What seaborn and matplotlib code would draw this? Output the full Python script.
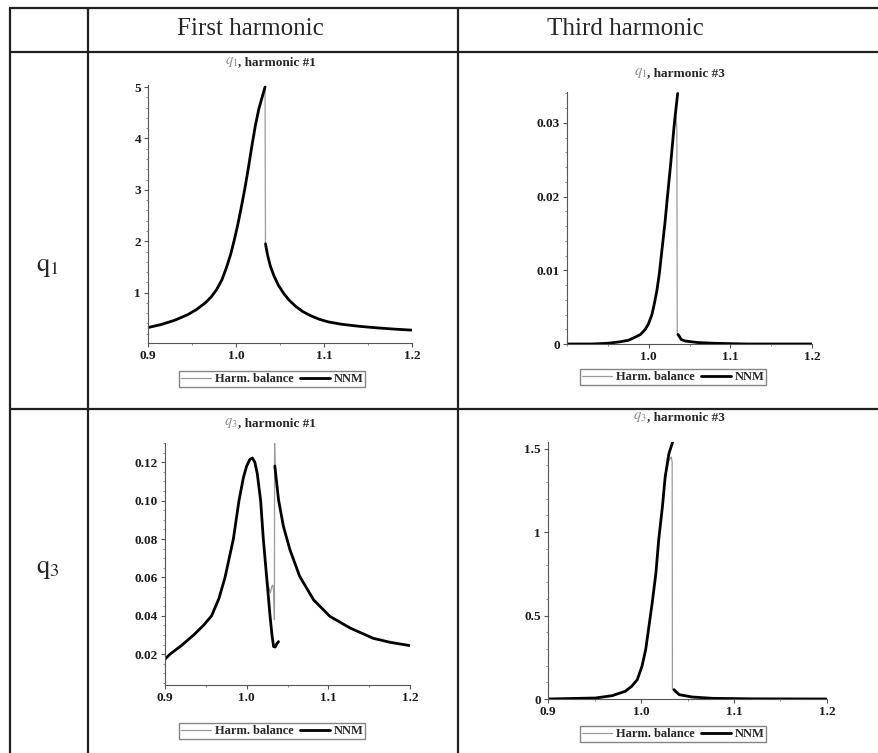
import numpy as np
import pandas as pd
import matplotlib
matplotlib.use("Agg")
import matplotlib.pyplot as plt
from matplotlib.lines import Line2D
from matplotlib.ticker import AutoMinorLocator
import seaborn as sns

# --- DATA ---
# NaN marks a break in a curve

# q1, harmonic #1
q1h1_hb_freq = [0.900, 0.915, 0.930, 0.945, 0.955, 0.965, 0.972, 0.978, 0.984, 0.989, 0.994,
                0.998, 1.002, 1.006, 1.010, 1.014, 1.018, 1.022, 1.026, 1.030, 1.033,
                1.0335, 1.036, 1.039, 1.043, 1.048, 1.054, 1.060, 1.068, 1.076, 1.085,
                1.095, 1.105, 1.120, 1.140, 1.160, 1.180, 1.200]
q1h1_hb_amp = [0.32, 0.38, 0.46, 0.57, 0.67, 0.80, 0.92, 1.06, 1.25, 1.48, 1.75,
               2.02, 2.32, 2.66, 3.02, 3.42, 3.85, 4.25, 4.58, 4.82, 5.00,
               1.95, 1.72, 1.52, 1.33, 1.15, 0.99, 0.86, 0.73, 0.63, 0.55,
               0.48, 0.43, 0.385, 0.345, 0.315, 0.29, 0.27]
q1h1_nnm_freq = [0.900, 0.915, 0.930, 0.945, 0.955, 0.965, 0.972, 0.978, 0.984, 0.989, 0.994,
                 0.998, 1.002, 1.006, 1.010, 1.014, 1.018, 1.022, 1.026, 1.030, 1.033, np.nan,
                 1.0335, 1.036, 1.039, 1.043, 1.048, 1.054, 1.060, 1.068, 1.076, 1.085,
                 1.095, 1.105, 1.120, 1.140, 1.160, 1.180, 1.200]
q1h1_nnm_amp = [0.32, 0.38, 0.46, 0.57, 0.67, 0.80, 0.92, 1.06, 1.25, 1.48, 1.75,
                2.02, 2.32, 2.66, 3.02, 3.42, 3.85, 4.25, 4.58, 4.82, 5.00, np.nan,
                1.95, 1.72, 1.52, 1.33, 1.15, 0.99, 0.86, 0.73, 0.63, 0.55,
                0.48, 0.43, 0.385, 0.345, 0.315, 0.29, 0.27]

# q1, harmonic #3
q1h3_hb_freq = [0.900, 0.930, 0.950, 0.965, 0.975, 0.983, 0.990, 0.996, 1.000, 1.004, 1.007,
                1.010, 1.013, 1.016, 1.020, 1.023, 1.027, 1.031, 1.0335, 1.0345, 1.0350,
                1.040, 1.045, 1.060, 1.080, 1.120, 1.200]
q1h3_hb_amp = [0.0, 0.0, 0.0001, 0.0003, 0.0005, 0.0009, 0.0013, 0.0020, 0.0028, 0.0040, 0.0055,
               0.0072, 0.0095, 0.0125, 0.0165, 0.0200, 0.0245, 0.0290, 0.0310, 0.0290, 0.0012,
               0.0006, 0.0004, 0.0002, 0.0001, 0.0, 0.0]
q1h3_nnm_freq = [0.900, 0.930, 0.950, 0.965, 0.975, 0.983, 0.990, 0.996, 1.000, 1.004, 1.007,
                 1.010, 1.013, 1.016, 1.020, 1.023, 1.027, 1.0315, 1.0355, np.nan, 1.036,
                 1.040, 1.045, 1.060, 1.080, 1.120, 1.200]
q1h3_nnm_amp = [0.0, 0.0, 0.0001, 0.0003, 0.0005, 0.0009, 0.0013, 0.0020, 0.0028, 0.0040, 0.0055,
                0.0072, 0.0095, 0.0125, 0.0165, 0.0200, 0.0245, 0.0300, 0.0340, np.nan, 0.0013,
                0.0006, 0.0004, 0.0002, 0.0001, 0.0, 0.0]

# q3, harmonic #1
q3h1_hb_freq = [0.900, 0.906, 0.920, 0.935, 0.947, 0.957, 0.966, 0.9735, 0.9837, 0.9906, 0.996,
                1.000, 1.004, 1.007, 1.010, 1.013, 1.0171, 1.0204, 1.0245, 1.027, 1.029,
                1.0305, 1.032, 1.033, 1.0340, 1.0342, 1.0348, 1.039, 1.045, 1.053, 1.065,
                1.082, 1.102, 1.127, 1.155, 1.176, 1.200]
q3h1_hb_amp = [0.0175, 0.0200, 0.0245, 0.0300, 0.0350, 0.0400, 0.0490, 0.0600, 0.0800, 0.1000, 0.1120,
               0.1180, 0.1215, 0.1222, 0.1200, 0.1140, 0.1000, 0.0800, 0.0600, 0.0550, 0.0520,
               0.0550, 0.0560, 0.0530, 0.0380, 0.1300, 0.1180, 0.1005, 0.0866, 0.0744, 0.0605,
               0.0483, 0.0397, 0.0336, 0.0283, 0.0262, 0.0245]
q3h1_nnm_freq = [0.900, 0.906, 0.920, 0.935, 0.947, 0.957, 0.966, 0.9735, 0.9837, 0.9906, 0.996,
                 1.000, 1.004, 1.007, 1.010, 1.013, 1.0171, 1.0204, 1.0245, 1.0286, 1.031,
                 1.033, 1.035, 1.037, 1.039, np.nan, 1.0345, 1.039, 1.045, 1.053, 1.065,
                 1.082, 1.102, 1.127, 1.155, 1.176, 1.200]
q3h1_nnm_amp = [0.0175, 0.0200, 0.0245, 0.0300, 0.0350, 0.0400, 0.0490, 0.0600, 0.0800, 0.1000, 0.1120,
                0.1180, 0.1215, 0.1222, 0.1200, 0.1140, 0.1000, 0.0800, 0.0600, 0.0400, 0.0300,
                0.0240, 0.0238, 0.0255, 0.0266, np.nan, 0.1180, 0.1005, 0.0866, 0.0744, 0.0605,
                0.0483, 0.0397, 0.0336, 0.0283, 0.0262, 0.0245]

# q3, harmonic #3
q3h3_hb_freq = [0.900, 0.951, 0.969, 0.983, 0.990, 0.996, 1.001, 1.005, 1.008, 1.012, 1.016,
                1.019, 1.023, 1.026, 1.030, 1.0325, 1.0335, 1.0338, 1.036, 1.041, 1.055,
                1.077, 1.120, 1.200]
q3h3_hb_amp = [0.0, 0.006, 0.020, 0.046, 0.076, 0.116, 0.195, 0.295, 0.414, 0.574, 0.753,
               0.952, 1.151, 1.331, 1.430, 1.450, 1.420, 0.060, 0.045, 0.026, 0.012,
               0.004, 0.001, 0.0]
q3h3_nnm_freq = [0.900, 0.951, 0.969, 0.983, 0.990, 0.996, 1.001, 1.005, 1.008, 1.012, 1.016,
                 1.019, 1.023, 1.026, 1.030, 1.034, np.nan, 1.0355, 1.041, 1.055, 1.077,
                 1.120, 1.200]
q3h3_nnm_amp = [0.0, 0.006, 0.020, 0.046, 0.076, 0.116, 0.195, 0.295, 0.414, 0.574, 0.753,
                0.952, 1.151, 1.331, 1.470, 1.540, np.nan, 0.056, 0.026, 0.012, 0.004,
                0.001, 0.0]

# tick labels
x_ticks = [0.9, 1.0, 1.1, 1.2]
x_labels = ["0.9", "1.0", "1.1", "1.2"]
q1h1_yticks = [1, 2, 3, 4, 5]
q1h1_ylabels = ["1", "2", "3", "4", "5"]
q1h3_yticks = [0, 0.01, 0.02, 0.03]
q1h3_ylabels = ["0", "0.01", "0.02", "0.03"]
q3h1_yticks = [0.02, 0.04, 0.06, 0.08, 0.10, 0.12]
q3h1_ylabels = ["0.02", "0.04", "0.06", "0.08", "0.10", "0.12"]
q3h3_yticks = [0, 0.5, 1, 1.5]
q3h3_ylabels = ["0", "0.5", "1", "1.5"]

col_headers = ["First harmonic", "Third harmonic"]
row_labels = [r"$\mathrm{q}_{1}$", r"$\mathrm{q}_{3}$"]
legend_labels = ["Harm. balance", "NNM"]

# --- LAYOUT (pixels) ---
W, H = 879, 753
HB_COLOR = "#9a9a9a"
LINE_COLOR = "#231f20"
NNM_LW = 2.0


def px_rect(left, top, w, h):
    return [left / W, 1 - (top + h) / H, w / W, h / H]


def to_frame(freq, amp):
    df = pd.DataFrame({"freq": freq, "amp": amp})
    df["seg"] = df["freq"].isna().cumsum()
    return df.dropna()


sns.set_style("ticks")
plt.rcParams["font.family"] = ["Liberation Serif", "DejaVu Serif"]
plt.rcParams["mathtext.fontset"] = "stix"

fig = plt.figure(figsize=(W / 100, H / 100), dpi=100)
fig.patch.set_facecolor("white")

# table grid
def hline(y, x0=10, x1=W):
    fig.add_artist(Line2D([x0 / W, x1 / W], [1 - y / H, 1 - y / H], color=LINE_COLOR, lw=1.6))

def vline(x, y0=8, y1=H):
    fig.add_artist(Line2D([x / W, x / W], [1 - y0 / H, 1 - y1 / H], color=LINE_COLOR, lw=1.6))

for y in [8, 52, 409]:
    hline(y)
for x in [10, 88, 458]:
    vline(x)

fig.text(250 / W, 1 - 29 / H, col_headers[0], ha="center", va="center", fontsize=18)
fig.text(625 / W, 1 - 29 / H, col_headers[1], ha="center", va="center", fontsize=18)
fig.text(48 / W, 1 - 268 / H, row_labels[0], ha="center", va="center", fontsize=19)
fig.text(48 / W, 1 - 570 / H, row_labels[1], ha="center", va="center", fontsize=19)

panels = [
    dict(hb=(q1h1_hb_freq, q1h1_hb_amp), nnm=(q1h1_nnm_freq, q1h1_nnm_amp),
         rect=(148, 85, 264, 258), ylim=(0.02, 5.04), yt=q1h1_yticks, yl=q1h1_ylabels,
         xt=x_ticks, xl=x_labels, ymin=5, title=(r"$q_1$", " harmonic #1"),
         tpos=(238, 62), leg=(272, 379)),
    dict(hb=(q1h3_hb_freq, q1h3_hb_amp), nnm=(q1h3_nnm_freq, q1h3_nnm_amp),
         rect=(567, 92, 245, 252), ylim=(0.0, 0.0342), yt=q1h3_yticks, yl=q1h3_ylabels,
         xt=x_ticks[1:], xl=x_labels[1:], ymin=5, title=(r"$q_1$", " harmonic #3"),
         tpos=(647, 73), leg=(673, 377)),
    dict(hb=(q3h1_hb_freq, q3h1_hb_amp), nnm=(q3h1_nnm_freq, q3h1_nnm_amp),
         rect=(165, 443, 245, 242), ylim=(0.004, 0.130), yt=q3h1_yticks, yl=q3h1_ylabels,
         xt=x_ticks, xl=x_labels, ymin=4, title=(r"$q_3$", " harmonic #1"),
         tpos=(238, 423), leg=(272, 731)),
    dict(hb=(q3h3_hb_freq, q3h3_hb_amp), nnm=(q3h3_nnm_freq, q3h3_nnm_amp),
         rect=(548, 442, 279, 257), ylim=(0.0, 1.54), yt=q3h3_yticks, yl=q3h3_ylabels,
         xt=x_ticks, xl=x_labels, ymin=5, title=(r"$q_3$", " harmonic #3"),
         tpos=(647, 417), leg=(673, 734)),
]

tick_font = dict(fontweight="bold", fontsize=9.5)

for p in panels:
    ax = fig.add_axes(px_rect(*p["rect"]))
    sns.lineplot(data=to_frame(*p["hb"]), x="freq", y="amp", units="seg", estimator=None,
                 sort=False, color=HB_COLOR, lw=0.9, ax=ax)
    sns.lineplot(data=to_frame(*p["nnm"]), x="freq", y="amp", units="seg", estimator=None,
                 sort=False, color="black", lw=NNM_LW, ax=ax)
    ax.set_xlim(0.9, 1.2)
    ax.set_ylim(*p["ylim"])
    ax.set_xlabel("")
    ax.set_ylabel("")
    ax.set_xticks(p["xt"], p["xl"], **tick_font)
    ax.set_yticks(p["yt"], p["yl"], **tick_font)
    ax.xaxis.set_minor_locator(AutoMinorLocator(2))
    ax.yaxis.set_minor_locator(AutoMinorLocator(p["ymin"]))
    sns.despine(ax=ax)
    for side in ["left", "bottom"]:
        ax.spines[side].set_color("#555555")
        ax.spines[side].set_linewidth(0.8)
    ax.tick_params(which="major", length=3, width=0.8, pad=2, colors="#555555", labelcolor="#1a1a1a")
    ax.tick_params(which="minor", length=1.5, width=0.6, colors="#777777")

    # title: grey italic symbol + bold text
    tx, ty = p["tpos"]
    fig.text(tx / W, 1 - ty / H, p["title"][0], ha="right", va="center", color="#8a8a8a", fontsize=10.5)
    fig.text(tx / W, 1 - ty / H, "," + p["title"][1], ha="left", va="center", fontsize=9.5,
             fontweight="bold")

    handles = [Line2D([], [], color=HB_COLOR, lw=0.9), Line2D([], [], color="black", lw=NNM_LW)]
    leg = ax.legend(handles, legend_labels, loc="center", ncol=2,
                    bbox_to_anchor=(p["leg"][0] / W, 1 - p["leg"][1] / H),
                    bbox_transform=fig.transFigure, frameon=True, fancybox=False,
                    edgecolor="#666666", borderpad=0.15, handlelength=2.4, handletextpad=0.3,
                    columnspacing=0.5, borderaxespad=0,
                    prop=dict(family="Liberation Serif", weight="bold", size=9))
    leg.get_frame().set_linewidth(1.0)

fig.savefig("out.png", dpi=100, facecolor="white")
